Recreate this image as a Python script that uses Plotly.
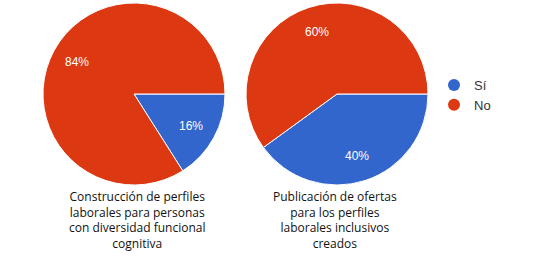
import math
import plotly.graph_objects as go

labels = ["Sí", "No"]
values_1 = [16, 84]
values_2 = [40, 60]
captions = [
    ["Construcción de perfiles", "laborales para personas", "con diversidad funcional", "cognitiva"],
    ["Publicación de ofertas", "para los perfiles", "laborales inclusivos", "creados"],
]
colors = ["#3366CC", "#DC3912"]

W, H = 539, 268
pies = [
    dict(values=values_1, x0=43, x1=225, y0=3, y1=185, cap_x=137),
    dict(values=values_2, x0=246, x1=428, y0=3, y1=185, cap_x=335),
]

def dom(x0, x1, y0, y1):
    return dict(x=[x0 / W, x1 / W], y=[1 - y1 / H, 1 - y0 / H])

fig = go.Figure()
for k, p in enumerate(pies):
    fig.add_trace(go.Pie(
        labels=labels, values=p["values"], sort=False, direction="clockwise", rotation=90,
        marker=dict(colors=colors, line=dict(color="white", width=1)),
        textinfo="none", hoverinfo="label+percent",
        domain=dom(p["x0"], p["x1"], p["y0"], p["y1"]), showlegend=False,
    ))
    # percentage labels placed along each slice's mid-angle (Google Charts style)
    cx = (p["x0"] + p["x1"]) / 2
    cy = (p["y0"] + p["y1"]) / 2
    r = (p["x1"] - p["x0"]) / 2
    total = sum(p["values"])
    start = 0.0
    for v in p["values"]:
        mid = start + v / total * 360 / 2
        start += v / total * 360
        a = math.radians(mid)
        lx = cx + 0.72 * r * math.cos(a)
        ly = cy + 0.72 * r * math.sin(a)
        fig.add_annotation(
            x=lx / W, y=1 - ly / H, xref="paper", yref="paper", showarrow=False,
            text=f"{round(v / total * 100)}%", xanchor="center", yanchor="middle",
            font=dict(color="white", size=12, family="Arial"),
        )
    fig.add_annotation(
        x=p["cap_x"] / W, y=1 - 220 / H, xref="paper", yref="paper",
        xanchor="center", yanchor="middle", text="<br>".join(captions[k]),
        showarrow=False, align="center",
        font=dict(size=12, color="#111111", family="Open Sans"),
    )

for lab, col in zip(labels, colors):
    fig.add_trace(go.Scatter(
        x=[None], y=[None], mode="markers", name=lab,
        marker=dict(symbol="circle", size=12, color=col), showlegend=True,
    ))

fig.update_layout(
    width=W, height=H, margin=dict(l=0, r=0, t=0, b=0),
    paper_bgcolor="white", plot_bgcolor="white",
    xaxis=dict(visible=False), yaxis=dict(visible=False),
    legend=dict(x=434 / W, y=1 - 95 / H, xanchor="left", yanchor="middle",
                font=dict(size=13, color="#333333", family="Arial"),
                itemsizing="constant", bgcolor="rgba(0,0,0,0)"),
)
fig.write_html("out.html", config={"displayModeBar": False},
               post_script="document.body.style.margin='0';")
